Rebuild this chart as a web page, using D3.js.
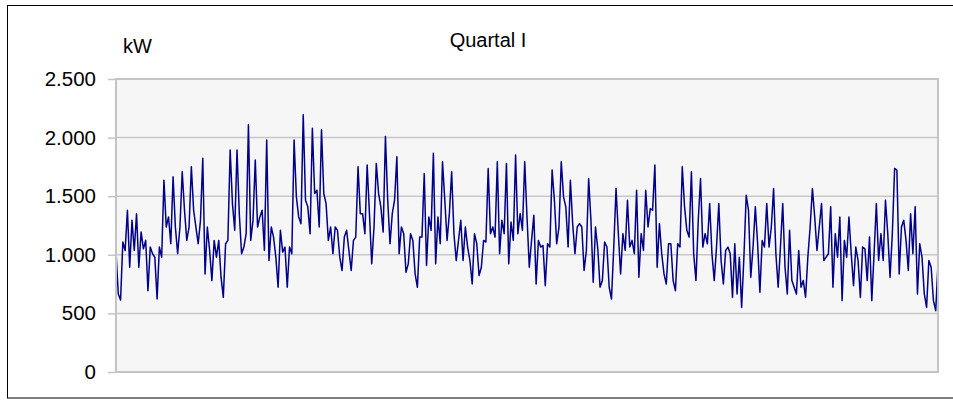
<!DOCTYPE html>
<html lang="de">
<head>
  <meta charset="UTF-8">
  <title>Quartal I</title>
  <script src="https://cdn.jsdelivr.net/npm/d3@7"></script>
  <style>
    body { margin: 0; background: #fff; }
    svg text { font-family: "Liberation Sans", Arial, sans-serif; fill: #000; }
  </style>
</head>
<body>
  <script>
    // Lastgang 1. Quartal, ein Wert alle 6 Stunden (kW)
    const januar = [
      1023, 666, 614, 1109, 1037, 1380, 894, 1294, 1037, 1351,
      894, 1194, 1051, 1123, 694, 1066, 1009, 980, 623, 1066,
      980, 1637, 1237, 1323, 1094, 1666, 1237, 1009, 1237, 1709,
      1380, 1123, 1237, 1751, 1380, 1237, 1094, 1294, 1823, 837,
      1237, 1037, 780, 1123, 980, 1123, 809, 637, 1094, 1123,
      1894, 1437,
      1209, 1894, 1351, 1009, 1066, 1180, 2109, 1123, 1294, 1809,
      1237, 1323, 1380, 1037, 1980, 951, 1237, 1151, 980, 723,
      1209, 1023, 1066, 723, 1066, 1009, 1980, 1494, 1323, 1266,
      2194, 1466, 1409, 1180, 2080, 1523, 1551, 1237, 2066, 1523,
      1437, 1123, 1237, 1009, 1237, 1209, 980, 866, 1151, 1209,
      1037, 866, 1123, 1151, 1751, 1351, 1351, 1180, 1766, 1351,
      923, 1237, 1780, 1523, 1409, 1194, 2009, 1466, 1094, 1351,
      1466, 1837
    ];
    const februar = [
      1009, 1237, 1180, 851, 923, 1180, 1123, 837, 723, 1151,
      1151, 1694, 909, 1323, 1209, 1866, 923, 1323, 1094, 1794,
      1466, 1123, 1351, 1709, 1180, 951, 1123, 1294, 951, 1237,
      1066, 951, 751, 1180, 1094, 823, 894, 1123, 1109, 1737,
      1180, 1237, 1151, 1794, 1009, 1294, 1180, 1780, 923, 1280,
      1123, 1851, 1180, 1351, 1209, 1794, 1323, 894, 1123, 1337,
      751, 1123, 1066, 1080, 737, 1094, 1066, 1723, 1466, 1094,
      1237, 1794, 1494, 1409, 1066, 1637, 1266, 1009, 1237, 1266,
      1237, 866,
      1037, 1651, 1294, 766, 1237, 1051, 723, 780, 1109, 1066,
      723, 623, 1066, 1566, 1180, 837, 1180, 1037, 1466, 1066,
      1123, 1009, 1551, 809, 1180, 1037, 1551, 1237, 1394, 1380
    ];
    const maerz = [
      1766, 894, 1266, 1009, 837, 751, 1094, 1094, 780, 694,
      1094, 1066, 1751, 1409, 1209, 1151, 1709, 1009, 780, 1294,
      1651, 1066,
      1180, 1094, 1437, 1009, 780, 1066, 1437, 951, 751, 1037,
      1066, 1009, 637, 1094, 666, 980, 551, 980, 1509, 1380,
      809, 1066, 1409, 1094, 680, 1123, 1066, 1437, 1066, 1237,
      1566, 1009, 723, 1066, 1437, 894, 666, 1209, 780, 723,
      666, 1037, 723, 780, 637, 980, 1237, 1566, 1323, 1037,
      1237, 1437,
      951, 980, 1009, 1409, 723, 1180, 980, 1323, 609, 1123,
      980, 1323, 1009, 737, 1066, 951, 637, 1066, 1051, 780,
      1151, 609, 1009, 1437, 951, 1180, 951, 1466, 1180, 809,
      1180, 1737, 1723, 837, 1237, 1294, 1123, 866, 1351, 1009,
      1409, 666, 1094, 980, 666, 551, 951, 894, 609, 523,
      923
    ];
    const yTicks = [0, 500, 1000, 1500, 2000, 2500];
    const title = "Quartal I";
    const unit = "kW";

    const start = new Date(Date.UTC(2010, 0, 1));
    const values = januar.concat(februar, maerz);
    const dataset = values.map((v, i) => [d3.utcHour.offset(start, i * 6), v]);

    const w = 953;
    const h = 400;
    const plot = { left: 116, top: 79, right: 938, bottom: 372 };

    const de = d3.formatLocale({ decimal: ",", thousands: ".", grouping: [3], currency: ["", " €"] });

    const xScale = d3.scaleUtc()
                     .domain([start, dataset[dataset.length - 1][0]])
                     .range([plot.left, plot.right]);

    const yScale = d3.scaleLinear()
                     .domain([0, 2500])
                     .range([plot.bottom, plot.top]);

    const svg = d3.select("body")
                  .append("svg")
                  .attr("width", w)
                  .attr("height", h);

    // Rahmen des Diagramms (rechte Kante liegt außerhalb des Bildes)
    svg.append("rect")
       .attr("x", 7.5)
       .attr("y", 5.5)
       .attr("width", 975)
       .attr("height", 392.5)
       .attr("fill", "#fff")
       .attr("stroke", "#000")
       .attr("stroke-width", 1);

    svg.append("rect")
       .attr("x", plot.left)
       .attr("y", plot.top)
       .attr("width", plot.right - plot.left)
       .attr("height", plot.bottom - plot.top)
       .attr("fill", "#f6f6f6");

    // Gitternetz
    svg.append("g")
       .selectAll("line")
       .data(yTicks.slice(1, -1))
       .enter()
       .append("line")
       .attr("x1", plot.left)
       .attr("x2", plot.right)
       .attr("y1", d => yScale(d))
       .attr("y2", d => yScale(d))
       .attr("stroke", "#c8c8c8")
       .attr("stroke-width", 1.5);

    svg.append("defs")
       .append("clipPath")
       .attr("id", "clip")
       .append("rect")
       .attr("x", plot.left)
       .attr("y", plot.top)
       .attr("width", plot.right - plot.left)
       .attr("height", plot.bottom - plot.top);

    const line = d3.line()
                   .x(d => xScale(d[0]))
                   .y(d => yScale(d[1]));

    svg.append("path")
       .datum(dataset)
       .attr("clip-path", "url(#clip)")
       .attr("d", line)
       .attr("fill", "none")
       .attr("stroke", "#000088")
       .attr("stroke-width", 1.5)
       .attr("stroke-linejoin", "round");

    // Rahmen der Zeichnungsfläche
    svg.append("rect")
       .attr("x", plot.left)
       .attr("y", plot.top)
       .attr("width", plot.right - plot.left)
       .attr("height", plot.bottom - plot.top)
       .attr("fill", "none")
       .attr("stroke", "#c4c4c4")
       .attr("stroke-width", 2);

    const yAxis = d3.axisLeft(yScale)
                    .tickValues(yTicks)
                    .tickFormat(de.format(",d"))
                    .tickSize(7)
                    .tickPadding(12);

    const gy = svg.append("g")
                  .attr("transform", "translate(" + (plot.left - 1) + ",0)")
                  .call(yAxis);
    gy.select(".domain").remove();
    gy.selectAll(".tick line").attr("stroke", "#c4c4c4").attr("stroke-width", 1.5);
    gy.selectAll(".tick text")
      .attr("font-size", 20.5)
      .attr("fill", "#000")
      .style("font-family", "'Liberation Sans', Arial, sans-serif");

    svg.append("text")
       .attr("x", 123)
       .attr("y", 53)
       .attr("font-size", 20)
       .text(unit);

    svg.append("text")
       .attr("x", 488)
       .attr("y", 47)
       .attr("text-anchor", "middle")
       .attr("font-size", 20)
       .text(title);
  </script>
</body>
</html>
